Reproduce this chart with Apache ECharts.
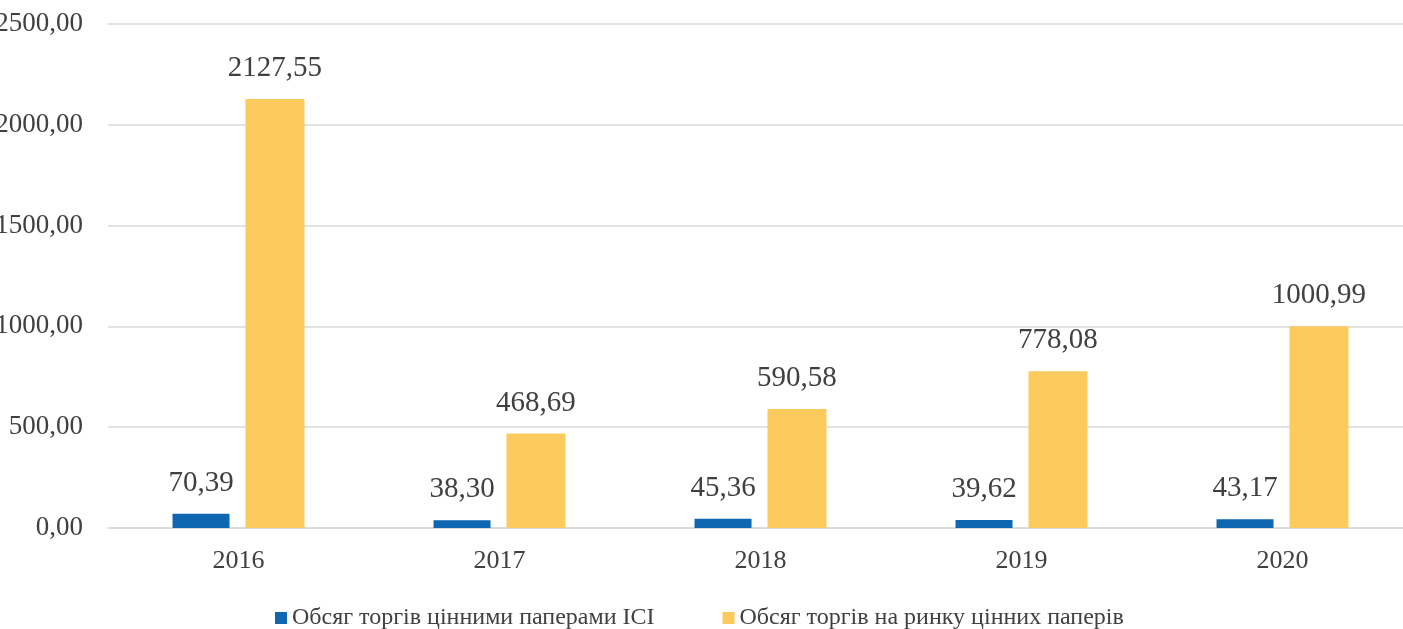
<!DOCTYPE html>
<html><head><meta charset="utf-8">
<script src="https://cdn.jsdelivr.net/npm/echarts@6/dist/echarts.min.js"></script>
<style>html,body{margin:0;padding:0;background:#fff}#c{width:1403px;height:629px}</style>
</head><body><div id="c"></div>
<script>
const categories = ['2016', '2017', '2018', '2019', '2020'];
const seriesNames = ['Обсяг торгів цінними паперами ІСІ', 'Обсяг торгів на ринку цінних паперів'];
const iciVolume = [70.39, 38.30, 45.36, 39.62, 43.17];
const marketVolume = [2127.55, 468.69, 590.58, 778.08, 1000.99];
const yTicks = [0, 500, 1000, 1500, 2000, 2500];

const fmt = v => Number(v).toFixed(2).replace('.', ',');
const font = 'Liberation Serif';
const chart = echarts.init(document.getElementById('c'));
chart.setOption({
  animation: false,
  textStyle: { fontFamily: font },
  grid: { left: 108, top: 24, width: 1305, height: 504, containLabel: false, outerBoundsMode: 'none' },
  legend: {
    top: 606, left: 275, padding: 0,
    itemWidth: 12, itemHeight: 12, itemGap: 68,
    icon: 'rect',
    textStyle: { fontFamily: font, fontSize: 24, color: '#404040' },
    data: seriesNames
  },
  xAxis: {
    type: 'category', data: categories,
    axisLine: { show: true, lineStyle: { color: '#d9d9d9', width: 1.5 } },
    axisTick: { show: false },
    axisLabel: { fontFamily: font, fontSize: 26, color: '#404040', margin: 20 }
  },
  yAxis: {
    type: 'value', min: yTicks[0], max: yTicks[yTicks.length - 1], interval: 500,
    axisLine: { show: false }, axisTick: { show: false },
    splitLine: { lineStyle: { color: '#d9d9d9', width: 1.5 } },
    axisLabel: { fontFamily: font, fontSize: 27, color: '#404040', margin: 25, formatter: fmt }
  },
  series: [
    {
      name: seriesNames[0], type: 'bar', data: iciVolume, barWidth: 57, barGap: '28%',
      itemStyle: { color: '#0e67b0' },
      label: { show: true, position: 'top', distance: 16, fontFamily: font, fontSize: 29, color: '#404040', formatter: p => fmt(p.value) }
    },
    {
      name: seriesNames[1], type: 'bar', data: marketVolume, barWidth: 59,
      itemStyle: { color: '#fdca5e' },
      label: { show: true, position: 'top', distance: 16, fontFamily: font, fontSize: 29, color: '#404040', formatter: p => fmt(p.value) }
    }
  ]
});
</script></body></html>
